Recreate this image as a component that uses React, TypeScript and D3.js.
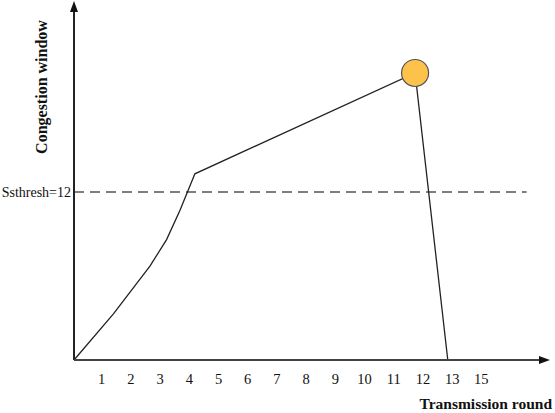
import React from "react";
import * as d3 from "d3";

const rounds = [0, 1.35, 2.6, 3.17, 3.63, 4.14, 11.68, 12.8];
const cwnd = [0, 3.3, 6.7, 8.6, 10.7, 13.3, 20.5, 0];
const tickValues = [1, 2, 3, 4, 5, 6, 7, 8, 9, 10, 11, 12, 13, 14];
const tickLabels = ["1", "2", "3", "4", "5", "6", "7", "8", "9", "10", "11", "12", "13", "15"];
const ssthresh = 12;
const peakIndex = 6;

const W = 555;
const H = 413;

export default function App() {
  const x = d3.scaleLinear().domain([0, 16.3]).range([74, 550]);
  const y = d3.scaleLinear().domain([0, 25.57]).range([360, 2]);
  const pts: [number, number][] = rounds.map((r, i) => [r, cwnd[i]]);
  const line = d3
    .line<[number, number]>()
    .x((d) => x(d[0]))
    .y((d) => y(d[1]));
  const font = "'Liberation Serif', 'Times New Roman', serif";
  const x0 = x(0);
  const y0 = y(0);
  return (
    <svg
      width={W}
      height={H}
      style={{ position: "absolute", left: 0, top: 0, background: "#fff" }}
      fontFamily={font}
    >
      <line
        x1={x0}
        x2={x(15.5)}
        y1={y(ssthresh)}
        y2={y(ssthresh)}
        stroke="#555"
        strokeWidth={1.3}
        strokeDasharray="10,6"
      />
      <text x={71} y={y(ssthresh) + 5} textAnchor="end" fontSize={14} fill="#111">
        Ssthresh=12
      </text>
      <path d={line(pts) || ""} fill="none" stroke="#222" strokeWidth={1.3} />
      <circle
        cx={x(rounds[peakIndex])}
        cy={y(cwnd[peakIndex])}
        r={13.5}
        fill="#FCC24B"
        stroke="#555"
        strokeWidth={1.2}
      />
      <line x1={x0} x2={x0} y1={y0} y2={10} stroke="#222" strokeWidth={2} />
      <path d={`M${x0 - 4},${12} L${x0},${1} L${x0 + 4},${12} Z`} fill="#111" />
      <line x1={x0} x2={542} y1={y0} y2={y0} stroke="#444" strokeWidth={2} />
      <path d={`M${539},${y0 - 4} L${550},${y0} L${539},${y0 + 4} Z`} fill="#111" />
      {tickValues.map((t, i) => (
        <text
          key={t}
          x={x(t) - 1.5}
          y={384}
          textAnchor="middle"
          fontSize={14.5}
          fill="#111"
        >
          {tickLabels[i]}
        </text>
      ))}
      <text x={552} y={409} textAnchor="end" fontSize={15.5} fontWeight="bold" fill="#111">
        Transmission round
      </text>
      <text
        transform={`translate(47,87) rotate(-90)`}
        textAnchor="middle"
        fontSize={16}
        fontWeight="bold"
        fill="#111"
      >
        Congestion window
      </text>
    </svg>
  );
}
